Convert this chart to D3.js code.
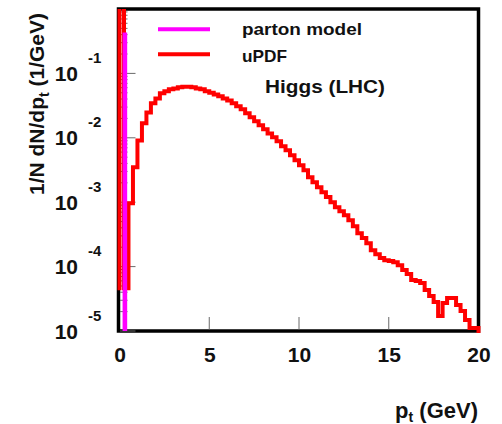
<!DOCTYPE html>
<html><head><meta charset="utf-8">
<script src="https://cdn.jsdelivr.net/npm/d3@7"></script>
<style>
body{margin:0;background:#fff}
svg{display:block}
text{font-family:"Liberation Sans",Arial,Helvetica,sans-serif;font-weight:bold;fill:#111}
</style>
</head><body><svg id="c" width="502" height="424"></svg>
<script>
// ---- data ----
const binWidth = 0.25;              // GeV
const ptDomain = [0, 20];
const yDomain = [1e-5, 1];
// uPDF histogram, 1/N dN/dpt per 0.25 GeV bin starting at pt = 0
const updfValues = [3, 4.6e-5, 9.6e-4, 3.5e-3, 9.1e-3, 0.0168, 0.0248, 0.0343, 0.0409, 0.049,
  0.0526, 0.0565, 0.0585, 0.0607, 0.0618, 0.0618, 0.0607, 0.0585, 0.0565, 0.0526,
  0.0499, 0.0472, 0.044, 0.0409, 0.0381, 0.0343, 0.0308, 0.0277, 0.024, 0.0208,
  0.018, 0.0156, 0.0136, 0.0117, 0.0102, 0.00883, 0.00738, 0.0064, 0.00536, 0.00448,
  0.00375, 0.00313, 0.00244, 0.00204, 0.00171, 0.00143, 0.0012, 0.001, 0.000836, 0.000724,
  0.000628, 0.000526, 0.000425, 0.00033, 0.000277, 0.000231, 0.00018, 0.000156, 0.000136, 0.000126,
  0.000122, 0.000117, 0.000105, 8.83e-5, 7.66e-5, 6.18e-5, 6.0e-5, 5.54e-5, 4.33e-5, 3.49e-5,
  2.82e-5, 1.71e-5, 2.72e-5, 3.25e-5, 3.25e-5, 2.53e-5, 2.04e-5, 1.48e-5, 1.11e-5, 1.11e-5];
const updfStart = 4.6e-5;           // outline starts here at pt = 0
const partonPt = [0.3];             // parton model: delta peak at low pt
const partonValue = [0.43];
const xTickValues = [0, 5, 10, 15, 20];
const yExponents = [-1, -2, -3, -4, -5];
const legendLabels = ["parton model", "uPDF"];
const legendColors = ["#ff00ff", "#ff0000"];
const annotation = "Higgs (LHC)";

// ---- chart ----
const svg = d3.select("#c");
const x = d3.scaleLinear().domain(ptDomain).range([119.5, 478.5]);
const y = d3.scaleLog().domain(yDomain).range([331, 9]);
const L = 118.5, R = 478.5, T = 9, B = 331;

svg.append("rect").attr("width", 502).attr("height", 424).attr("fill", "#fff");

// frame
svg.append("rect").attr("x", L).attr("y", T).attr("width", R - L).attr("height", B - T)
  .attr("fill", "none").attr("stroke", "#000").attr("stroke-width", 3.5);

// y ticks (major + minor), inside
const tickG = svg.append("g").attr("stroke", "#6a6a6a").attr("stroke-width", 1);
yExponents.forEach(e => {
  const v = Math.pow(10, e);
  tickG.append("line").attr("x1", L + 1.5).attr("x2", L + 17).attr("y1", y(v)).attr("y2", y(v));
});
for (let d = -5; d <= -1; d++) {
  for (let k = 2; k <= 9; k++) {
    const v = k * Math.pow(10, d);
    tickG.append("line").attr("x1", L + 1.5).attr("x2", L + 9).attr("y1", y(v)).attr("y2", y(v));
  }
}
xTickValues.filter(t => t > ptDomain[0] && t < ptDomain[1]).forEach(t => {
  tickG.append("line").attr("x1", x(t)).attr("x2", x(t)).attr("y1", B - 1.5).attr("y2", B - 14);
});

// clip
svg.append("clipPath").attr("id", "clip").append("rect")
  .attr("x", L - 3).attr("y", T).attr("width", R - L + 6).attr("height", B - T + 3);

// uPDF histogram outline
const pts = [[0, updfStart]];
updfValues.forEach((v, i) => { pts.push([i * binWidth, v]); pts.push([(i + 1) * binWidth, v]); });
pts.push([ptDomain[1], yDomain[0]]);
const line = d3.line().x(d => x(d[0])).y(d => y(Math.max(d[1], 1e-6)));
svg.append("path").attr("clip-path", "url(#clip)").attr("d", line(pts))
  .attr("fill", "none").attr("stroke", legendColors[1]).attr("stroke-width", 4)
  .attr("stroke-linejoin", "miter").attr("stroke-linecap", "square");

// parton model
partonPt.forEach((p, i) => {
  svg.append("line").attr("x1", x(p)).attr("x2", x(p)).attr("y1", y(yDomain[0])).attr("y2", y(partonValue[i]))
    .attr("stroke", legendColors[0]).attr("stroke-width", 4.6);
});

// x tick labels
xTickValues.forEach(t => {
  svg.append("text").attr("x", x(t) + 0.5).attr("y", 362).attr("text-anchor", "middle")
    .attr("font-size", 21).text(t);
});

// y tick labels 10^e
yExponents.forEach(e => {
  const yy = y(Math.pow(10, e));
  svg.append("text").attr("x", 78).attr("y", yy + 7.5).attr("text-anchor", "end")
    .attr("font-size", 21).text("10");
  svg.append("text").attr("x", 88).attr("y", yy - 10.5).attr("font-size", 15).text(String(e));
});

// axis titles
const yt = svg.append("text").attr("transform", "translate(44,104) rotate(-90)")
  .attr("text-anchor", "middle").attr("font-size", 21);
yt.append("tspan").text("1/N dN/dp");
yt.append("tspan").attr("font-size", 14).attr("dy", 5).text("t");
yt.append("tspan").attr("dy", -5).text(" (1/GeV)");

const xt = svg.append("text").attr("x", 478).attr("y", 418).attr("text-anchor", "end").attr("font-size", 22);
xt.append("tspan").text("p");
xt.append("tspan").attr("font-size", 14).attr("dy", 4).text("t");
xt.append("tspan").attr("dy", -4).text(" (GeV)");

// legend
const legY = [29.3, 54.3];
const legTextY = [35, 61.5];
const legTextLen = [120, 45];
legendLabels.forEach((lab, i) => {
  svg.append("line").attr("x1", 158).attr("x2", 210).attr("y1", legY[i]).attr("y2", legY[i])
    .attr("stroke", legendColors[i]).attr("stroke-width", 4);
  svg.append("text").attr("x", 242).attr("y", legTextY[i]).attr("font-size", 17)
    .attr("textLength", legTextLen[i]).attr("lengthAdjust", "spacingAndGlyphs").text(lab);
});
svg.append("text").attr("x", 265).attr("y", 93).attr("font-size", 18)
  .attr("textLength", 120).attr("lengthAdjust", "spacingAndGlyphs").text(annotation);
</script>
</body></html>
